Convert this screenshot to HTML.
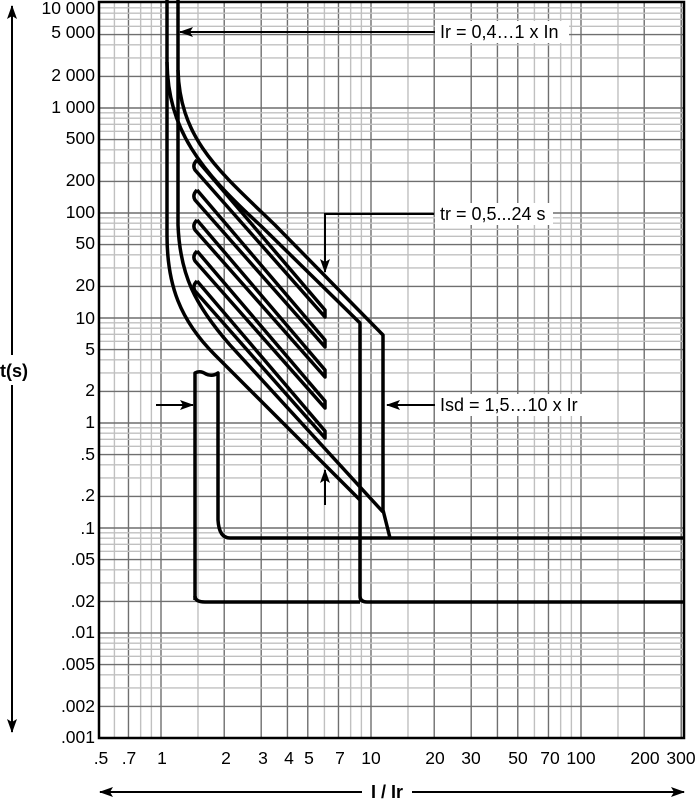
<!DOCTYPE html>
<html><head><meta charset="utf-8"><style>
html,body{margin:0;padding:0;background:#fff;}
svg{display:block;font-family:"Liberation Sans",Arial,sans-serif;}
</style></head><body>
<svg id="s" width="699" height="800" viewBox="0 0 699 800" xmlns="http://www.w3.org/2000/svg">
<defs>
<marker id="ah" viewBox="0 0 14 10" refX="13" refY="5" markerWidth="15" markerHeight="10" orient="auto-start-reverse" markerUnits="userSpaceOnUse">
<path d="M0,0 L14,5 L0,10 L3,5 Z" fill="#000"/></marker>
</defs>
<g id="grid"></g>
<rect x="99" y="2" width="585" height="736" fill="none" stroke="#000" stroke-width="2.5"/>
<g fill="none" stroke="#000" stroke-width="3.5" stroke-linejoin="round">
<path d="M167,0 L167,235 C167,285 180,320 215,355 L360,500"/>
<path d="M178,0 L178,225 C180,275 195,305 230,345 L383,512"/>
<path d="M167,62 C168,130 200,170 260,225 L360,323 L360,596 Q360,602 367,602 L684,602"/>
<path d="M178,70 C180,140 220,172 275,225 L383,335 L383,510 L390,538 L684,538"/>
<path d="M195,600 L195,373 Q200,370 206,374 Q212,377 218,373 L218,520 Q219,538 230,538 L390,538"/>
<path d="M195,596 Q195,602 205,602 L360,602"/>
<path d="M197,160 L325,310 L325,317 L195,170 Q192,165 197,160"/>
<path d="M197,190 L325,340 L325,347 L195,200 Q192,195 197,190"/>
<path d="M197,220 L325,370 L325,377 L195,230 Q192,225 197,220"/>
<path d="M197,251 L325,401 L325,408 L195,261 Q192,256 197,251"/>
<path d="M197,281 L325,431 L325,438 L195,291 Q192,286 197,281"/>
</g>
<g stroke="#000" stroke-width="2" fill="none">
<line x1="436" y1="32" x2="180" y2="32" marker-end="url(#ah)"/>
<polyline points="434,214 325,214 325,272" marker-end="url(#ah)"/>
<line x1="436" y1="405" x2="387" y2="405" marker-end="url(#ah)"/>
<line x1="156" y1="405" x2="193" y2="405" marker-end="url(#ah)"/>
<line x1="325" y1="505" x2="325" y2="470" marker-end="url(#ah)"/>
<line x1="12" y1="355" x2="12" y2="6" marker-end="url(#ah)"/>
<line x1="12" y1="385" x2="12" y2="732" marker-end="url(#ah)"/>
<line x1="362" y1="792" x2="100" y2="792" marker-end="url(#ah)"/>
<line x1="412" y1="792" x2="684" y2="792" marker-end="url(#ah)"/>
</g>
<g font-size="18">
<rect x="435" y="21" width="134" height="22" fill="#fff"/>
<text x="440" y="38">Ir = 0,4…1 x In</text>
<rect x="435" y="203" width="118" height="22" fill="#fff"/>
<text x="440" y="220">tr = 0,5...24 s</text>
<rect x="435" y="394" width="154" height="22" fill="#fff"/>
<text x="440" y="411">Isd = 1,5…10 x Ir</text>
<rect x="0" y="360" width="32" height="22" fill="#fff"/>
<text x="0" y="377" font-weight="bold" font-size="18">t(s)</text>
<text x="387" y="798" text-anchor="middle" font-weight="bold" font-size="18">I / Ir</text>
</g>
<g font-size="17.5" text-anchor="end">
<text x="95" y="14">10 000</text>
<text x="95" y="38">5 000</text>
<text x="95" y="81">2 000</text>
<text x="95" y="113">1 000</text>
<text x="95" y="144">500</text>
<text x="95" y="186">200</text>
<text x="95" y="218">100</text>
<text x="95" y="249">50</text>
<text x="95" y="291">20</text>
<text x="95" y="324">10</text>
<text x="95" y="355">5</text>
<text x="95" y="396">2</text>
<text x="95" y="428">1</text>
<text x="95" y="460">.5</text>
<text x="95" y="501">.2</text>
<text x="95" y="534">.1</text>
<text x="95" y="565">.05</text>
<text x="95" y="607">.02</text>
<text x="95" y="638">.01</text>
<text x="95" y="670">.005</text>
<text x="95" y="712">.002</text>
<text x="95" y="743">.001</text>
</g>
<g font-size="17.5" text-anchor="middle">
<text x="101" y="764">.5</text>
<text x="129" y="764">.7</text>
<text x="162" y="764">1</text>
<text x="226" y="764">2</text>
<text x="263" y="764">3</text>
<text x="289" y="764">4</text>
<text x="309" y="764">5</text>
<text x="340" y="764">7</text>
<text x="371" y="764">10</text>
<text x="435" y="764">20</text>
<text x="471" y="764">30</text>
<text x="518" y="764">50</text>
<text x="550" y="764">70</text>
<text x="581" y="764">100</text>
<text x="645" y="764">200</text>
<text x="681" y="764">300</text>
</g>
</svg>
<script>
(function(){
var g=document.getElementById('grid'),h='';
function X(v){return 161+210*Math.log10(v);}
function Y(t){return 738-(Math.log10(t)+3)*105;}
var xs=[0.5,0.6,0.7,0.8,0.9],d,m;
for(d=1;d<=100;d*=10)for(m=1;m<10;m++)xs.push(m*d);
xs.push(1.5);xs.push(15);xs.push(150);xs.push(300);
xs.forEach(function(v){var x=X(v);if(x<99||x>684)return;
var r=v/Math.pow(10,Math.floor(Math.log10(v)+1e-9));r=Math.round(r*10)/10;
var dark=[1,2,3,4,5,7].indexOf(r)>=0;
h+='<line x1="'+x+'" y1="2" x2="'+x+'" y2="738" stroke="'+(dark?'#6f6f6f':'#c0c0c0')+'" stroke-width="1.4"/>';});
for(d=0.001;d<10000;d*=10)for(m=1;m<10;m++){var t=m*d,y=Y(t);
var dark=[1,2,5].indexOf(m)>=0;
h+='<line x1="99" y1="'+y+'" x2="684" y2="'+y+'" stroke="'+(dark?'#6f6f6f':'#c0c0c0')+'" stroke-width="1.4"/>';}
g.innerHTML=h;
})();
</script>
</body></html>
